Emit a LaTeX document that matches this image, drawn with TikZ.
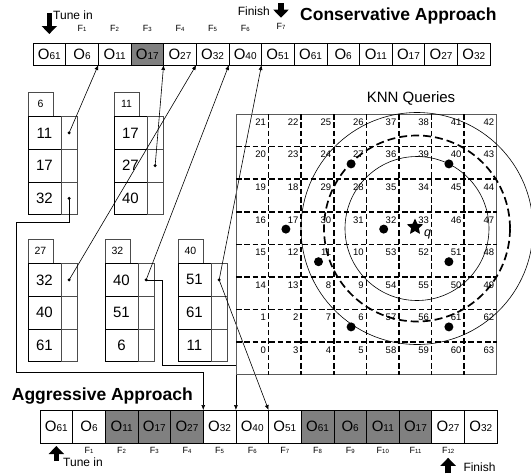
\documentclass[tikz,border=0pt]{standalone}
\usepackage{fontspec}
\setmainfont{Liberation Sans}
\usetikzlibrary{arrows.meta,positioning,calc,shapes.geometric}
\definecolor{cellgray}{RGB}{128,128,128}
\definecolor{bordergray}{RGB}{90,90,90}
\newcommand{\objlab}[1]{{\fontsize{15}{15}\selectfont O}{\fontsize{10}{10}\selectfont #1}}
\newcommand{\framelab}[1]{{\fontsize{9}{9}\selectfont F}{\fontsize{6}{6}\selectfont #1}}

\begin{document}
\begin{tikzpicture}[x=1pt, y=-1pt,
  objcell/.style={draw, line width=0.7pt, minimum width=32.65pt, inner sep=0pt, outer sep=0pt, anchor=north west},
  flab/.style={inner sep=0pt},
  hdbox/.style={draw=black!70, line width=0.6pt, minimum width=25pt, minimum height=24.5pt, inner sep=0pt, outer sep=0pt, font=\fontsize{10.5}{12}\selectfont},
  keybox/.style={draw, line width=0.8pt, minimum width=33pt, minimum height=32.75pt, inner sep=0pt, outer sep=0pt, font=\fontsize{15}{17}\selectfont},
  ptrbox/.style={draw=black!70, line width=0.6pt, minimum width=16.3pt, minimum height=32.75pt, inner sep=0pt, outer sep=0pt},
  gnum/.style={font=\fontsize{9.5}{10}\selectfont, inner sep=0pt, anchor=north east},
  qdot/.style={circle, fill, inner sep=0pt, minimum size=9pt},
  ptrline/.style={line width=0.6pt, -{Latex[length=5pt,width=4pt]}},
  bigarrow/.style={line width=5.5pt, -{Triangle[length=8pt,width=15pt]}},
  griddash/.style={line width=1.7pt, dash pattern=on 5.5pt off 2.8pt},
  title/.style={font=\bfseries\fontsize{17.5}{18}\selectfont, inner sep=0pt},
  note/.style={font=\fontsize{12}{12}\selectfont, inner sep=0pt}]
\useasboundingbox (0,0) rectangle (531,475);

% conservative broadcast
\foreach \ov/\fc [count=\i] in {61/white,6/white,11/white,17/cellgray,27/white,32/white,40/white,51/white,61/white,6/white,11/white,17/white,27/white,32/white}
  \node[objcell, fill=\fc, minimum height=22pt] (t\i) at ({33+32.65*(\i-1)},43) {\objlab{\ov}};
\foreach \i in {1,...,6}
  \node[flab] (ft\i) at ({33+32.65*(\i+0.5)},28) {\framelab{\i}};
\node[flab] (ft7) at (281,26) {\framelab{7}};

\node[title, anchor=base west] (conslab) at (300,20.7) {Conservative Approach};
\node[note, anchor=base west] (tunetop) at (53,19.3) {Tune in};
\node[note, anchor=base east] (fintop) at (270,15) {Finish};
\coordinate (tunestart) at ($(t1.north)+(0,-30)$);
\draw[bigarrow, shorten >=9pt] (tunestart) -- (t1.north);
\coordinate (finstart) at ($(ft7.north)+(0,-19.5)$);
\draw[bigarrow, shorten >=5pt] (finstart) -- (ft7.north);

% aggressive broadcast
\foreach \ov/\fc [count=\i] in {61/white,6/white,11/cellgray,17/cellgray,27/cellgray,32/white,40/white,51/white,61/cellgray,6/cellgray,11/cellgray,17/cellgray,27/white,32/white}
  \node[objcell, fill=\fc, minimum height=33pt] (b\i) at ({40+32.65*(\i-1)},410) {\objlab{\ov}};
\foreach \i in {1,...,12}
  \node[flab] (fb\i) at ({40+32.65*(\i+0.5)},450) {\framelab{\i}};

\node[title, anchor=base west] (agglab) at (11.7,400) {Aggressive Approach};
\node[note, anchor=base west] (tunebot) at (63,466.7) {Tune in};
\node[note, anchor=base west] (finbot) at (463.3,471.7) {Finish};
\coordinate (tunebotstart) at ($(b1.south)+(0,18)$);
\draw[bigarrow, shorten >=3pt] (tunebotstart) -- (b1.south);
\coordinate (finbotstart) at ($(fb12.south)+(0,20)$);
\draw[bigarrow, shorten >=4.5pt] (finbotstart) -- (fb12.south);

% index buckets
\foreach \bk/\bx/\by/\ka/\kb/\kc in {6/28/92/11/17/32, 11/114/92/17/27/40, 27/28/239/32/40/61, 32/105/239/40/51/6, 40/178/239/51/61/11} {
  \node[hdbox, anchor=north west] (h\bk) at (\bx,\by) {\bk};
  \node[keybox, anchor=north west] (k\bk-1) at (h\bk.south west) {\ka};
  \node[keybox, below=0pt of k\bk-1] (k\bk-2) {\kb};
  \node[keybox, below=0pt of k\bk-2] (k\bk-3) {\kc};
  \foreach \r in {1,2,3}
    \node[ptrbox, right=0pt of k\bk-\r] (p\bk-\r) {};
}
\foreach \p in {p6-1,p6-3,p11-2,p27-1,p32-1,p40-1}
  \fill (\p.center) circle[radius=1.7pt];

% pointers, conservative
\draw[ptrline] (p6-1.center) -- (t3.south west);
\draw[ptrline] (p11-2.center) -- (t5.south west);
\draw[ptrline] (p27-1.center) -- (t6.south west);
\draw[ptrline] (p32-1.center) -- (t7.south west);
\draw[ptrline] (p40-1.center) -- (t8.south west);
% pointers, aggressive
\draw[ptrline] (p6-3.center) -- ++(0,24) -| ++(-53,150) -| (b6.north west);
\draw[ptrline] (p32-1.center) -- ++(16,0) |- ($(b7.north west)+(0,-45)$) -- (b7.north west);
\draw[ptrline] (p40-1.center) -- (b8.north west);

% knn grid
\node[font=\fontsize{15}{15}\selectfont, inner sep=0pt, anchor=base west] (knnlab) at (366.7,102.7) {KNN Queries};
\draw[draw=bordergray, line width=0.8pt] (236,114) rectangle (496.8,374.8);
\foreach \k in {1,...,7} {
  \draw[griddash] ({236+32.6*\k},114) -- ({236+32.6*\k},374.8);
  \draw[griddash] (236,{114+32.6*\k}) -- (496.8,{114+32.6*\k});
}
\foreach \row [count=\r from 0] in {{21,22,25,26,37,38,41,42},{20,23,24,27,36,39,40,43},{19,18,29,28,35,34,45,44},{16,17,30,31,32,33,46,47},{15,12,11,10,53,52,51,48},{14,13,8,9,54,55,50,49},{1,2,7,6,57,56,61,62},{0,3,4,5,58,59,60,63}}
  \foreach \n [count=\c from 0] in \row
    \node[gnum] (g\n) at ({236+32.6*(\c+1)-2.5},{114+32.6*\r+4.5}) {\n};
\foreach \n/\gx/\gy in {27/3/1, 40/6/1, 17/1/3, 32/4/3, 11/2/4, 51/6/4, 6/3/6, 61/6/6}
  \node[qdot] (d\n) at ({236+32.6*(\gx+0.5)+1},{114+32.6*(\gy+0.5)+1}) {};

\node[star, star points=5, star point ratio=2.1, fill, inner sep=0pt, minimum size=17pt] (q) at (415,227) {};
\node[font=\itshape\fontsize{12.5}{12.5}\selectfont, inner sep=0pt] (qlab) at (427.5,234.5) {q};
\coordinate (qc) at ($(q.center)+(2,1.5)$);
\draw[line width=0.6pt] (qc) circle[radius=72pt];
\draw[line width=1.7pt, dash pattern=on 8pt off 4pt] (qc) circle[radius=93pt];
\draw[line width=0.6pt] (qc) circle[radius=116pt];
\end{tikzpicture}
\end{document}
